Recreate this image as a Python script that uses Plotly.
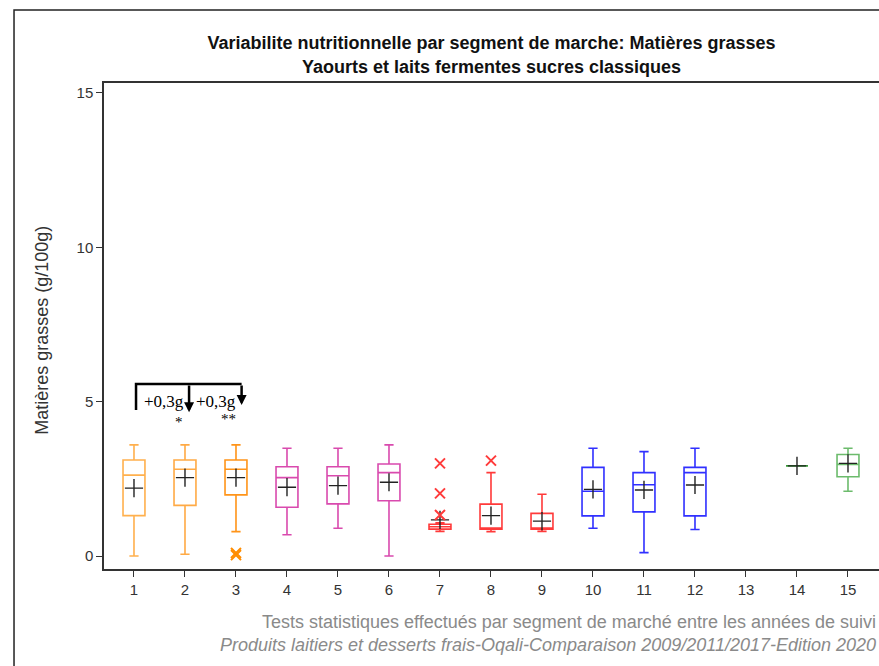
import plotly.graph_objects as go

# Segments de marche 1..15 (13 is empty)
segments = [1, 2, 3, 4, 5, 6, 7, 8, 9, 10, 11, 12, 14, 15]
lower = [0.0, 0.06, 0.79, 0.69, 0.90, 0.0, 0.80, 0.79, 0.80, 0.90, 0.11, 0.86, 2.92, 2.10]
q1 = [1.31, 1.64, 1.98, 1.58, 1.69, 1.79, 0.87, 0.87, 0.87, 1.30, 1.43, 1.30, 2.92, 2.57]
median = [2.62, 2.81, 2.81, 2.54, 2.60, 2.70, 0.95, 0.87, 0.87, 2.10, 2.31, 2.70, 2.92, 2.97]
q3 = [3.11, 3.11, 3.11, 2.89, 2.89, 2.98, 1.03, 1.68, 1.38, 2.87, 2.70, 2.87, 2.92, 3.29]
upper = [3.60, 3.60, 3.60, 3.49, 3.49, 3.60, 1.08, 2.70, 2.00, 3.49, 3.38, 3.49, 2.92, 3.49]
means = [2.20, 2.54, 2.54, 2.23, 2.28, 2.39, 1.17, 1.31, 1.13, 2.16, 2.14, 2.30, 2.92, 3.00]
colors = ["#FFB04D", "#FFAA45", "#FF9419", "#D94AAE", "#D94AAE", "#D94AAE",
          "#FF3A3A", "#FF3A3A", "#FF3A3A", "#3030FF", "#3030FF", "#3030FF",
          "#339933", "#6CBB6C"]

# Valeurs atypiques
out_x = [3, 3, 7, 7, 7, 8]
out_y = [0.03, 0.10, 1.33, 2.03, 3.00, 3.09]
out_col = ["#FF8C00", "#FF8C00", "#FF3A3A", "#FF3A3A", "#FF3A3A", "#FF3A3A"]

# Comparaisons statistiques
bracket_x = [1.04, 2.08, 3.11]
bracket_top = 5.57
arrow_tip = [4.66, 4.89]
diff_labels = ["+0,3g", "+0,3g"]
signif = ["*", "**"]
signif_x = [1.88, 2.85]
signif_y = [4.35, 4.45]

fig = go.Figure()
for i, s in enumerate(segments):
    fig.add_trace(go.Box(
        x=[s], q1=[q1[i]], median=[median[i]], q3=[q3[i]],
        lowerfence=[lower[i]], upperfence=[upper[i]],
        width=0.43, whiskerwidth=0.42, boxpoints=False,
        line=dict(color=colors[i], width=1.6),
        fillcolor="rgba(0,0,0,0)", showlegend=False, hoverinfo="skip"))

fig.add_trace(go.Scatter(
    x=segments, y=means, mode="markers", showlegend=False,
    marker=dict(symbol="cross-thin", size=13, line=dict(color="#222", width=1.4))))
fig.add_trace(go.Scatter(
    x=out_x, y=out_y, mode="markers", showlegend=False,
    marker=dict(symbol="x-thin", size=10, line=dict(color=out_col, width=2))))

# bracket
fig.add_shape(type="path", xref="x", yref="y",
              path=f"M {bracket_x[0]} 4.73 L {bracket_x[0]} {bracket_top} L {bracket_x[2]} {bracket_top}",
              line=dict(color="black", width=2.5))
for j in range(2):
    xa = bracket_x[j + 1]
    fig.add_annotation(x=xa, y=arrow_tip[j], ax=xa, ay=bracket_top, xref="x", yref="y",
                       axref="x", ayref="y", text="", showarrow=True,
                       arrowhead=2, arrowsize=0.8, arrowwidth=2.5, arrowcolor="black")
    fig.add_annotation(x=(bracket_x[j] + xa) / 2 + 0.02, y=5.0, xref="x", yref="y",
                       text=diff_labels[j], showarrow=False,
                       font=dict(family="Liberation Serif", size=17, color="black"))
    fig.add_annotation(x=signif_x[j], y=signif_y[j], xref="x", yref="y", text=signif[j],
                       showarrow=False, font=dict(family="Liberation Serif", size=15, color="black"))

# outer frame
fig.add_shape(type="rect", xref="paper", yref="paper", x0=-0.1161, y0=-0.3, x1=1.2, y1=1.15,
              line=dict(color="#222", width=1.5), layer="above")

fig.add_annotation(xref="paper", yref="paper", x=-0.08, y=0.49, xanchor="center", yanchor="middle",
                   text="Matières grasses (g/100g)",
                   textangle=-90, showarrow=False, font=dict(size=18, color="#333"))
fig.add_annotation(xref="paper", yref="paper", x=0.999, y=-0.109, xanchor="right", yanchor="middle",
                   text="Tests statistiques effectués par segment de marché entre les années de suivi",
                   showarrow=False, font=dict(size=18, color="#8a8a8a"))
fig.add_annotation(xref="paper", yref="paper", x=0.999, y=-0.156, xanchor="right", yanchor="middle",
                   text="<i>Produits laitiers et desserts frais-Oqali-Comparaison 2009/2011/2017-Edition 2020</i>",
                   showarrow=False, font=dict(size=18, color="#8a8a8a"))

fig.update_layout(
    width=879, height=666,
    margin=dict(l=104, r=0, t=83, b=97),
    paper_bgcolor="white", plot_bgcolor="white",
    font=dict(family="Liberation Sans, Arial", color="#333"),
    title=dict(text="<b>Variabilite nutritionnelle par segment de marche: Matières grasses<br>"
                    "Yaourts et laits fermentes sucres classiques</b>",
               x=0.5, xref="paper", xanchor="center", y=0.926, yanchor="middle",
               font=dict(size=18, color="#111")),
)
fig.update_xaxes(range=[0.412, 15.608], tickvals=list(range(1, 16)), showgrid=False,
                 zeroline=False, showline=True, linecolor="#333", linewidth=1.5, mirror=True,
                 ticks="outside", ticklen=6, tickcolor="#333", tickfont=dict(size=15))
fig.update_yaxes(range=[-0.42, 15.32], tickvals=[0, 5, 10, 15], showgrid=False,
                 zeroline=False, showline=True, linecolor="#333", linewidth=1.5,
                 ticks="outside", ticklen=6, tickcolor="#333", tickfont=dict(size=15))

# drop the default page margin so the figure fills the window
fig.write_html("out.html", config={"displayModeBar": False},
               post_script="document.body.style.margin='0';")
